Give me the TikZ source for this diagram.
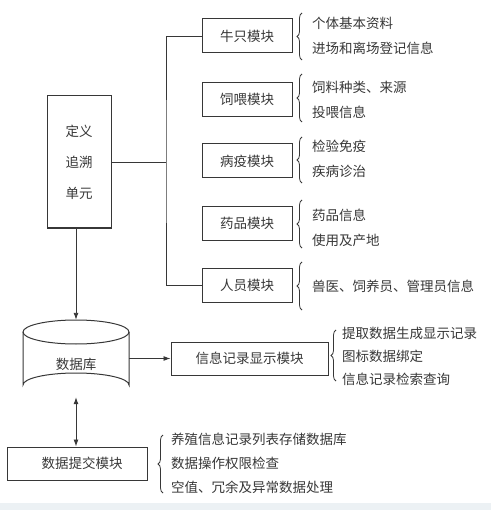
\documentclass[tikz,border=0pt]{standalone}
\usepackage{fontspec}
\newfontfamily\cjk{Noto Sans CJK SC}
\usetikzlibrary{arrows.meta,decorations.pathreplacing}
\definecolor{ink}{RGB}{55,55,55}
\definecolor{strip}{RGB}{236,241,244}
\begin{document}
\begin{tikzpicture}[x=1pt,y=-1pt,
  every node/.style={text=ink},
  box/.style={draw=ink,line width=1pt,rectangle,inner sep=0pt,font=\cjk\fontsize{13.5}{16}\selectfont},
  desc/.style={anchor=west,inner sep=0pt,align=left,font=\cjk\fontsize{13.5}{24.5}\selectfont},
  wire/.style={draw=ink,line width=0.9pt},
  arr/.style={wire,-{Latex[length=7pt,width=5pt]}},
  darr/.style={wire,{Latex[length=7pt,width=5pt]}-{Latex[length=7pt,width=5pt]}},
  brc/.style={draw=ink,line width=0.8pt,decorate,decoration={brace,amplitude=5pt}}]
\useasboundingbox (0,0) rectangle (491,510);
\fill[strip] (0,503) rectangle (491,510);

% definition unit
\node[box,minimum width=64pt,minimum height=132pt,align=center,
  font=\cjk\fontsize{13.5}{31}\selectfont] (def) at (79,162) {定义\\追溯\\单元};

% modules
\node[box,minimum width=90pt,minimum height=34pt] (m1) at (247,36) {牛只模块};
\node[box,minimum width=90pt,minimum height=34pt] (m2) at (247,99.5) {饲喂模块};
\node[box,minimum width=90pt,minimum height=34pt] (m3) at (247,161) {病疫模块};
\node[box,minimum width=90pt,minimum height=34pt] (m4) at (247,223.5) {药品模块};
\node[box,minimum width=90pt,minimum height=34pt] (m5) at (247,285) {人员模块};

\coordinate (bus) at (166,162);
\draw[wire] (def.east) -- (bus);
\draw[wire] (m1.west) -| (bus) |- (m5.west);

% module descriptions
\draw[brc] (302,60) -- (302,13);
\node[desc] (d1) at (312,36) {个体基本资料\\进场和离场登记信息};
\draw[brc] (302,122) -- (302,74);
\node[desc] (d2) at (312,100) {饲料种类、来源\\投喂信息};
\draw[brc] (302,183) -- (302,137);
\node[desc] (d3) at (312,159) {检验免疫\\疾病诊治};
\draw[brc] (302,248) -- (302,200);
\node[desc] (d4) at (312,228) {药品信息\\使用及产地};
\draw[brc] (302,310) -- (302,262);
\node[desc] (d5) at (312,286) {兽医、饲养员、管理员信息};

% database cylinder
\node[minimum width=106pt,minimum height=77pt,inner sep=0pt] (db) at (76,358.5) {};
\draw[draw=ink,line width=1pt,fill=white] (23,332) -- (23,385) arc[start angle=180,end angle=360,x radius=53,y radius=12] -- (129,332);
\draw[draw=ink,line width=1pt] (76,332) ellipse[x radius=53,y radius=12];
\node[font=\cjk\fontsize{13.5}{16}\selectfont,inner sep=0pt] (dbl) at (76,364) {数据库};

\draw[arr] (db.north |- def.south) -- (db.north);

% info display module
\node[box,minimum width=157pt,minimum height=33pt] (info) at (249.5,358.5) {信息记录显示模块};
\draw[arr] (db.east) -- (info.west);
\draw[brc] (336,381) -- (336,330);
\node[desc,font=\cjk\fontsize{13.5}{23}\selectfont] (di) at (342,356) {提取数据生成显示记录\\图标数据绑定\\信息记录检索查询};

% data submission module
\node[box,minimum width=140pt,minimum height=33pt] (sub) at (77,463.5) {\hspace{10pt}数据提交模块};
\draw[darr] (db.south) -- (db.south |- sub.north);
\draw[brc] (163,493) -- (163,435);
\node[desc,font=\cjk\fontsize{13.5}{24}\selectfont] (ds) at (171,463) {养殖信息记录列表存储数据库\\数据操作权限检查\\空值、冗余及异常数据处理};
\end{tikzpicture}
\end{document}
